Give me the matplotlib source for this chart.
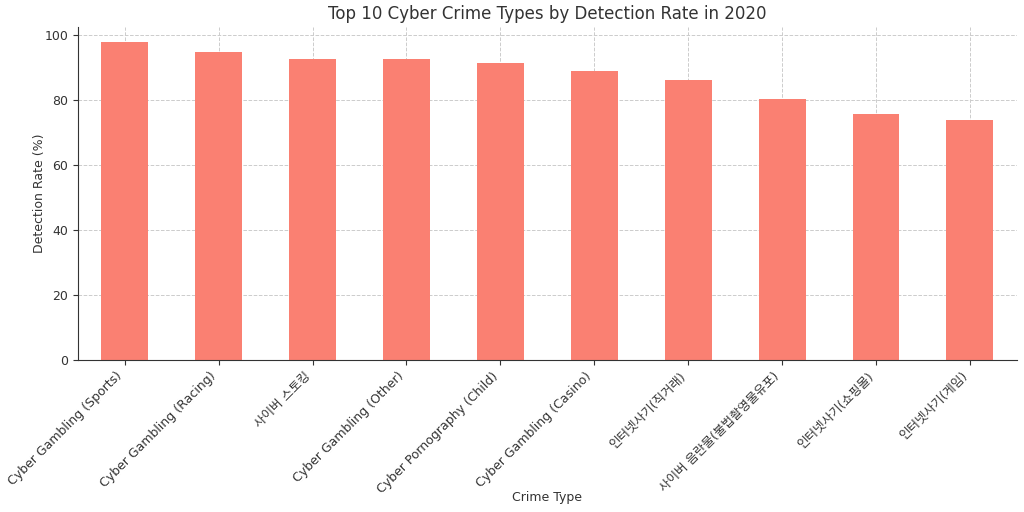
import matplotlib
matplotlib.use("Agg")
import matplotlib.pyplot as plt

plt.rcParams['font.family'] = ['DejaVu Sans', 'Noto Sans CJK KR']

categories = [
    "Cyber Gambling (Sports)",
    "Cyber Gambling (Racing)",
    "사이버 스토킹",
    "Cyber Gambling (Other)",
    "Cyber Pornography (Child)",
    "Cyber Gambling (Casino)",
    "인터넷사기(직거래)",
    "사이버 음란물(불법촬영물유포)",
    "인터넷사기(쇼핑몰)",
    "인터넷사기(게임)",
]
detection_rate = [97.8, 94.8, 92.7, 92.6, 91.4, 89.0, 86.2, 80.4, 75.9, 73.8]

text_color = "#333333"
fig, ax = plt.subplots(figsize=(10.24, 5.12), dpi=100)
fig.subplots_adjust(left=0.076, right=0.993, top=0.947, bottom=0.297)

x = list(range(len(categories)))
ax.bar(x, detection_rate, width=0.5, color="#FA8072", zorder=2)
ax.set_xlim(-0.5, len(categories) - 0.5)
ax.set_ylim(0, 102.5)
ax.set_xticks(x)
ax.set_xticklabels(categories, rotation=45, ha="right", rotation_mode="default",
                   color=text_color, fontsize=9)
ax.tick_params(axis="y", labelcolor=text_color, labelsize=9)
ax.tick_params(colors=text_color)
ax.set_yticks([0, 20, 40, 60, 80, 100])
ax.grid(True, linestyle="--", color="#cccccc", linewidth=0.7, zorder=0)
ax.set_axisbelow(True)
for s in ["top", "right"]:
    ax.spines[s].set_visible(False)
for s in ["left", "bottom"]:
    ax.spines[s].set_color("#333333")

ax.set_title("Top 10 Cyber Crime Types by Detection Rate in 2020", fontsize=12, color=text_color)
ax.set_xlabel("Crime Type", color=text_color, fontsize=9)
ax.set_ylabel("Detection Rate (%)", color=text_color, fontsize=9)
ax.xaxis.set_label_coords(0.5, -0.395)
ax.yaxis.set_label_coords(-0.034, 0.5)

fig.savefig("out.png", dpi=100)
